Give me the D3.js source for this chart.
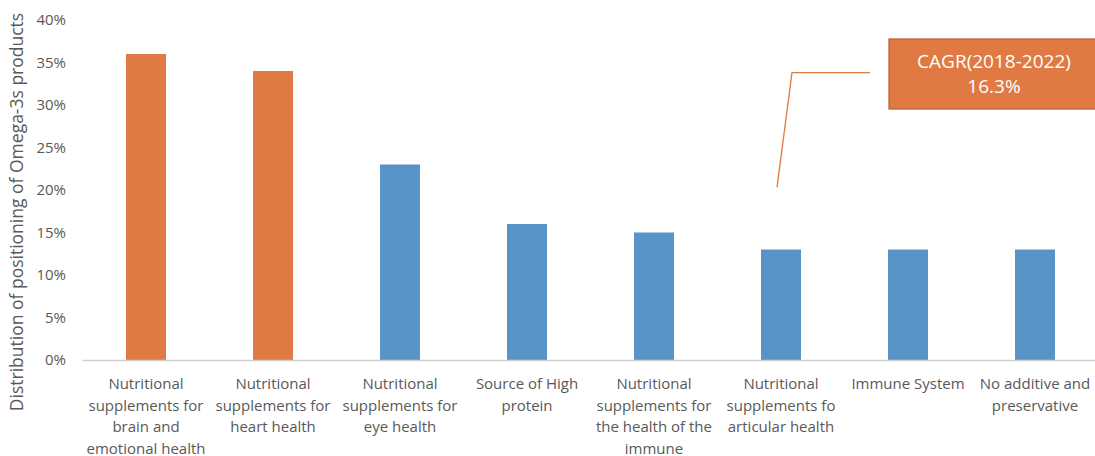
<!DOCTYPE html>
<html>
<head>
<meta charset="utf-8">
<script src="https://cdn.jsdelivr.net/npm/d3@7"></script>
<style>
  html, body { margin: 0; padding: 0; background: #ffffff; }
  svg { display: block; font-family: "Open Sans", "Noto Sans", sans-serif; }
</style>
</head>
<body>
<svg id="chart" width="1095" height="456"></svg>
<script>
// Product positioning categories (each entry is the wrapped tick label)
const categories = [
  ["Nutritional", "supplements for", "brain and", "emotional health"],
  ["Nutritional", "supplements for", "heart health"],
  ["Nutritional", "supplements for", "eye health"],
  ["Source of High", "protein"],
  ["Nutritional", "supplements for", "the health of the", "immune"],
  ["Nutritional", "supplements fo", "articular health"],
  ["Immune System"],
  ["No additive and", "preservative"]
];
// Share of Omega-3s products, percent
const shares = [36, 34, 23, 16, 15, 13, 13, 13];
// Highlighted categories (drawn in orange)
const highlighted = [true, true, false, false, false, false, false, false];
const yTicks = [0, 5, 10, 15, 20, 25, 30, 35, 40];
const yTitle = "Distribution of positioning of Omega-3s products";
const calloutLines = ["CAGR(2018-2022)", "16.3%"];
// Callout connector: points at the articular-health category, elbow levels in percent
const calloutTarget = 5;
const calloutLow = 20.3;
const calloutHigh = 33.8;

const orange = "#e07a42";
const blue = "#5994c9";
const textColor = "#595959";

const svg = d3.select("#chart");
const keys = categories.map((c, i) => i);

const x = d3.scaleBand().domain(keys).range([82.5, 1098.5]).paddingInner(0.685).paddingOuter(0.3425);
const y = d3.scaleLinear().domain([0, 40]).range([360, 20]);

// Y tick labels
svg.append("g").selectAll("text").data(yTicks).join("text")
  .attr("x", 66).attr("y", d => y(d)).attr("dy", "0.35em")
  .attr("text-anchor", "end").attr("font-size", 15).attr("fill", textColor)
  .text(d => d + "%");

// Y axis title
svg.append("text")
  .attr("transform", `translate(23,${212}) rotate(-90)`)
  .attr("text-anchor", "middle").attr("font-size", 17.5).attr("fill", textColor)
  .text(yTitle);

// Bars
svg.append("g").selectAll("rect").data(shares).join("rect")
  .attr("x", (d, i) => x(i)).attr("width", x.bandwidth())
  .attr("y", d => y(d)).attr("height", d => y(0) - y(d))
  .attr("fill", (d, i) => highlighted[i] ? orange : blue);

// Baseline
svg.append("line")
  .attr("x1", 82.5).attr("x2", 1095).attr("y1", y(0) + 0.5).attr("y2", y(0) + 0.5)
  .attr("stroke", "#d0d0d0").attr("stroke-width", 1.5);

// Category labels
const lab = svg.append("g").selectAll("text").data(categories).join("text")
  .attr("x", (d, i) => x(i) + x.bandwidth() / 2)
  .attr("y", 389)
  .attr("text-anchor", "middle").attr("font-size", 15).attr("fill", textColor);
lab.selectAll("tspan").data(d => d).join("tspan")
  .attr("x", function () { return this.parentNode.getAttribute("x"); })
  .attr("dy", (d, i) => i === 0 ? 0 : 21.5)
  .text(d => d);

// Callout connector
const tx = x(calloutTarget) + x.bandwidth() / 2 - 4;
svg.append("path")
  .attr("d", d3.line()([[tx, y(calloutLow)], [tx + 15, y(calloutHigh)], [870, y(calloutHigh)]]))
  .attr("fill", "none").attr("stroke", orange).attr("stroke-width", 1.3);

// Callout box
svg.append("rect")
  .attr("x", 889).attr("y", 39).attr("width", 210).attr("height", 70)
  .attr("fill", orange).attr("stroke", "#b85e2c").attr("stroke-width", 1.2);
svg.append("g").selectAll("text").data(calloutLines).join("text")
  .attr("x", 994).attr("y", (d, i) => 68 + i * 25)
  .attr("text-anchor", "middle").attr("font-size", 19).attr("fill", "#ffffff")
  .text(d => d);
</script>
</body>
</html>
